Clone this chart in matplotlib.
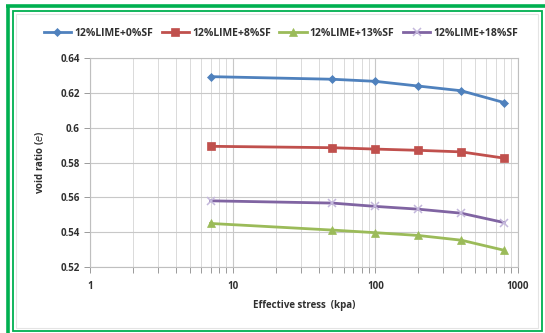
import matplotlib
matplotlib.use("Agg")
import matplotlib.pyplot as plt
from matplotlib.patches import Rectangle
from matplotlib.ticker import LogLocator, FixedLocator, NullFormatter

stress = [7, 50, 100, 200, 400, 800]
lime0 = [0.6293, 0.6278, 0.6266, 0.6239, 0.6212, 0.6144]
lime8 = [0.5893, 0.5885, 0.5877, 0.5870, 0.5861, 0.5825]
lime13 = [0.5450, 0.5412, 0.5397, 0.5381, 0.5354, 0.5296]
lime18 = [0.5580, 0.5567, 0.5548, 0.5532, 0.5509, 0.5455]
labels = ["12%LIME+0%SF", "12%LIME+8%SF", "12%LIME+13%SF", "12%LIME+18%SF"]
yticks = [0.52, 0.54, 0.56, 0.58, 0.6, 0.62, 0.64]
ytick_labels = ["0.52", "0.54", "0.56", "0.58", "0.6", "0.62", "0.64"]
xticks = [1, 10, 100, 1000]
xtick_labels = ["1", "10", "100", "1000"]

plt.rcParams['font.family'] = ['Open Sans', 'DejaVu Sans']

fig = plt.figure(figsize=(5.45, 3.33), dpi=100)
W, H = 545, 333
ax = fig.add_axes([90 / W, 1 - 267 / H, (518 - 90) / W, (267 - 58) / H])

colors = ["#4F81BD", "#C0504D", "#9BBB59", "#8064A2"]
series = [lime0, lime8, lime13, lime18]
markers = ["D", "s", "^", "x"]
msizes = [4.5, 6, 5.5, 6]
for s, c, m, ms, lab in zip(series, colors, markers, msizes, labels):
    mec = "#C4B8DC" if m == "x" else c
    ax.plot(stress, s, color=c, lw=2, marker=m, markersize=ms, markeredgecolor=mec,
            markerfacecolor=c, markeredgewidth=1.1 if m == "x" else 0.5, label=lab)

ax.set_xscale("log")
ax.set_xlim(1, 1000)
ax.set_ylim(0.52, 0.64)
ax.xaxis.set_major_locator(FixedLocator(xticks))
ax.set_xticklabels(xtick_labels)
ax.xaxis.set_minor_locator(LogLocator(base=10, subs=range(2, 10)))
ax.xaxis.set_minor_formatter(NullFormatter())
ax.set_yticks(yticks)
ax.set_yticklabels(ytick_labels)

ax.grid(True, which="major", color="#C8C8C8", lw=0.8)
ax.grid(True, which="minor", axis="x", color="#DADADA", lw=0.7)
ax.set_axisbelow(True)
for sp in ax.spines.values():
    sp.set_color("#BFBFBF")
    sp.set_linewidth(0.8)
ax.tick_params(axis="both", which="both", colors="#9A9A9A", labelcolor="#303030",
               labelsize=7, length=4, width=0.7)
for t in ax.get_xticklabels() + ax.get_yticklabels():
    t.set_fontweight("bold")
ax.tick_params(axis="x", pad=6)

ax.set_xlabel("Effective stress  (kpa)", fontsize=7, fontweight="bold", color="#303030", labelpad=6)
ax.set_ylabel("void ratio ($\\it{e}$)", fontsize=7, fontweight="bold", color="#303030", labelpad=10)

leg = fig.legend(loc="center", bbox_to_anchor=(281 / W, 1 - 33 / H), ncol=4, frameon=False,
                 handlelength=2.6, columnspacing=0.85, handletextpad=0.3,
                 prop={"weight": "bold", "size": 7.5})
for t in leg.get_texts():
    t.set_color("#303030")

# green double frame
green = "#00B050"
fig.add_artist(plt.Line2D([7.5 / W, 7.5 / W], [0, 1 - 5.5 / H], color=green, lw=2.6,
                          transform=fig.transFigure, solid_capstyle="butt"))
fig.add_artist(plt.Line2D([6.2 / W, 1], [1 - 5.5 / H, 1 - 5.5 / H], color=green, lw=2.6,
                          transform=fig.transFigure, solid_capstyle="butt"))
fig.add_artist(Rectangle((12.5 / W, 1 - 331 / H), (542 - 12.5) / W, (331 - 10.5) / H,
                         transform=fig.transFigure, fill=False, edgecolor=green, lw=1.3))
# subtle chart area border
fig.add_artist(Rectangle((16 / W, 1 - 328 / H), (538 - 16) / W, (328 - 14) / H,
                         transform=fig.transFigure, fill=False, edgecolor="#E4E4E4", lw=0.8))

fig.savefig("out.png", dpi=100)
